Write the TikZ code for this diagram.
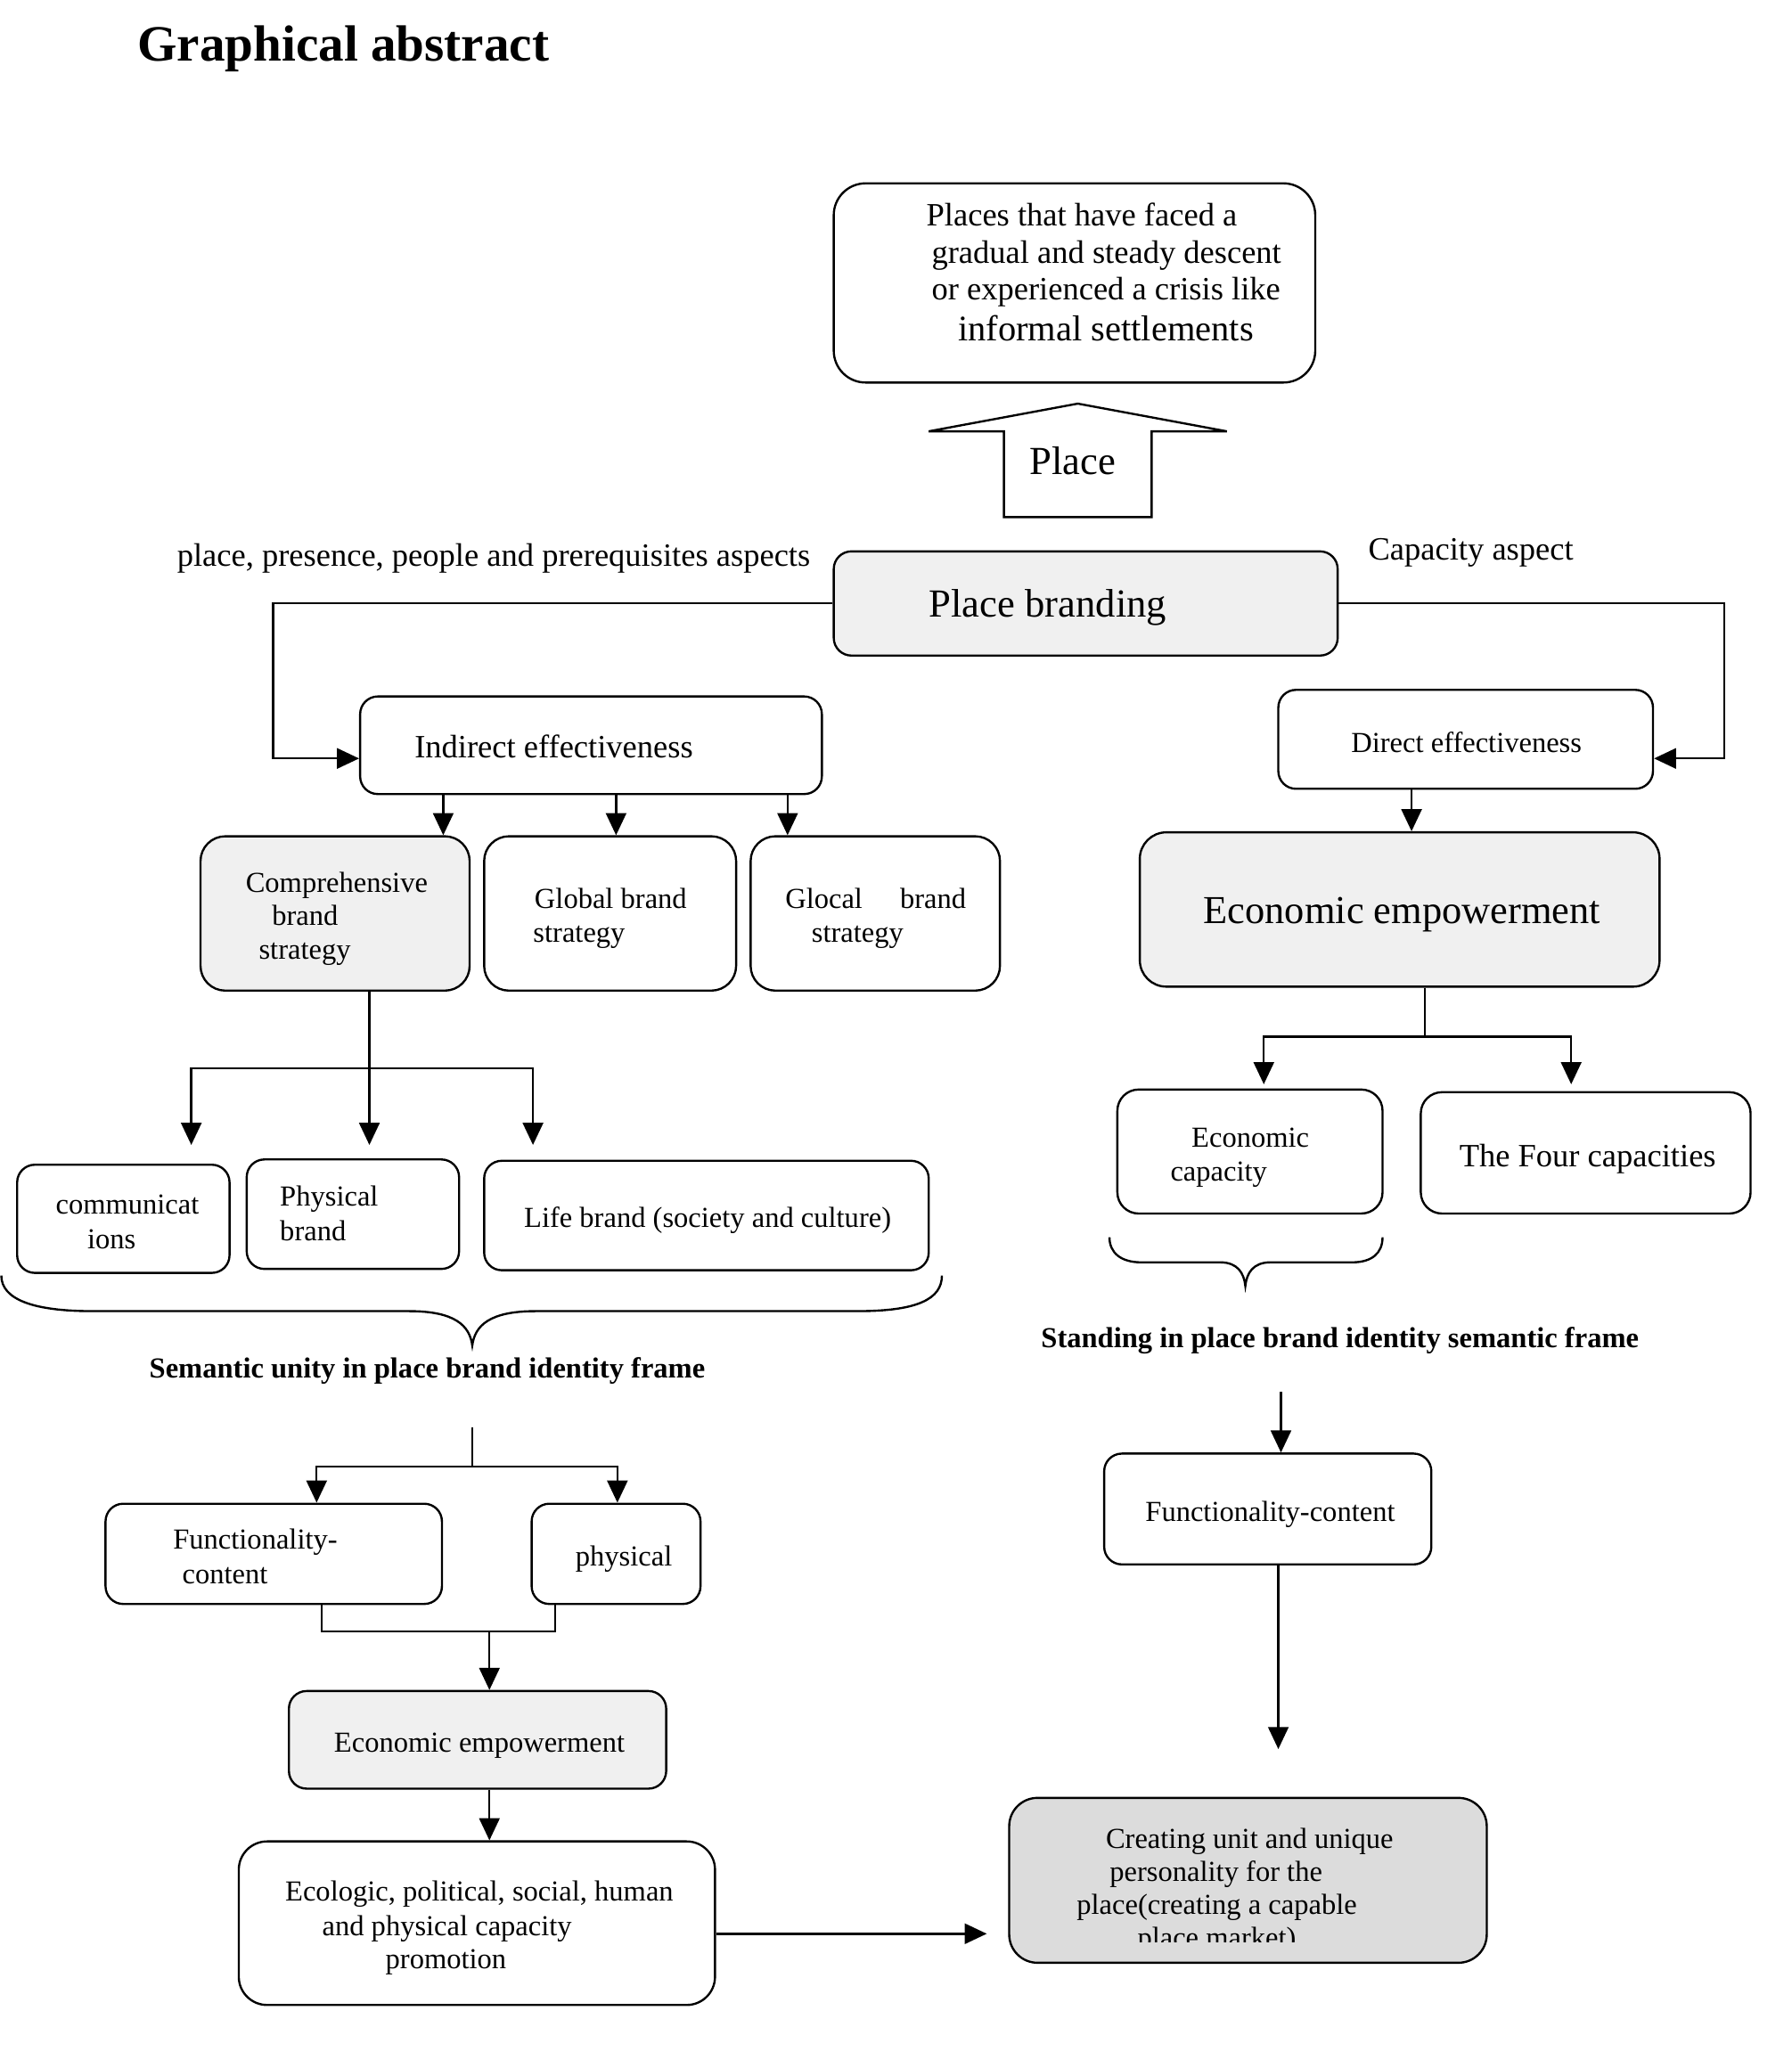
\documentclass[tikz,border=0pt]{standalone}
\usepackage{fontspec}
\setmainfont{Liberation Serif}
\usetikzlibrary{arrows.meta,fit}
\definecolor{lg}{HTML}{F0F0F0}
\definecolor{dg}{HTML}{DCDCDC}
\newcommand\fsS{\fontsize{16.4}{19}\selectfont}
\newcommand\fsM{\fontsize{18.4}{21}\selectfont}
\newcommand\fsL{\fontsize{22.5}{26}\selectfont}
\begin{document}
\begin{tikzpicture}[x=0.74625pt,y=-0.74625pt,
  box/.style={draw, line width=1.2pt, rounded corners=10pt, inner sep=0pt},
  lbl/.style={inner sep=0pt, anchor=mid west, yshift=-4pt, font=\fsS},
  arr/.style={line width=1.2pt, -{Triangle[length=12.5pt,width=11.5pt]}},
  ln/.style={line width=1.2pt}]
\useasboundingbox (0,0) rectangle (1357.8,1567.8);

% title
\node[lbl, yshift=-2pt, font=\fontsize{28.8}{32}\selectfont\bfseries] (title) at (104,35) {Graphical abstract};

% boxes
\node[box, fit={(632,139)(997,290)}, rounded corners=18pt] (top) {};
\node[box, fill=lg, fit={(632,418)(1014,497)}] (pb) {};
\node[box, fit={(273,528)(623,602)}] (ind) {};
\node[box, fit={(969,523)(1253,598)}] (dir) {};
\node[box, fill=lg, fit={(152,634)(356,751)}, rounded corners=14pt] (comp) {};
\node[box, fit={(367,634)(558,751)}, rounded corners=14pt] (glob) {};
\node[box, fit={(569,634)(758,751)}, rounded corners=14pt] (gloc) {};
\node[box, fill=lg, fit={(864,631)(1258,748)}, rounded corners=15pt] (eco) {};
\node[box, fit={(13,883)(174,965)}] (comm) {};
\node[box, fit={(187,879)(348,962)}] (phys) {};
\node[box, fit={(367,880)(704,963)}] (life) {};
\node[box, fit={(847,826)(1048,920)}, rounded corners=12pt] (ecap) {};
\node[box, fit={(1077,828)(1327,920)}, rounded corners=12pt] (four) {};
\node[box, fit={(80,1140)(335,1216)}] (func) {};
\node[box, fit={(403,1140)(531,1216)}] (phys2) {};
\node[box, fill=lg, fit={(219,1282)(505,1356)}] (econ2) {};
\node[box, fit={(181,1396)(542,1520)}, rounded corners=16pt] (ecol) {};
\node[box, fit={(837,1102)(1085,1186)}] (func2) {};
\node[box, fill=dg, fit={(765,1363)(1127,1488)}, rounded corners=16pt] (crea) {};

% block arrow "Place"
\draw[ln, line join=miter] (761,392) -- (761,327) -- (704,327) -- (817,306) -- (930,327) -- (873,327) -- (873,392) -- cycle;
\node[inner sep=0pt, anchor=mid, yshift=-4pt, font=\fsL] (placelbl) at (813,351) {Place};

% texts
\node[lbl, font=\fsM] (top1) at (702,163) {Places that have faced a};
\node[lbl, font=\fsM] (top2) at (706,191) {gradual and steady descent};
\node[lbl, font=\fsM] (top3) at (706,219) {or experienced a crisis like};
\node[lbl, font=\fontsize{20.4}{24}\selectfont] (top4) at (726,250) {informal settlements};
\node[lbl, font=\fsM] (asp1) at (134,421) {place, presence, people and prerequisites aspects};
\node[lbl, font=\fsM] (asp2) at (1037,416) {Capacity aspect};
\node[lbl, font=\fsL] (pbt) at (704,459) {Place branding};
\node[lbl, font=\fsM] (indt) at (314,566) {Indirect effectiveness};
\node[lbl] (dirt) at (1024,562) {Direct effectiveness};
\node[lbl] (comp1) at (186,668) {Comprehensive};
\node[lbl] (comp2) at (206,693) {brand};
\node[lbl] (comp3) at (196,719) {strategy};
\node[lbl] (glob1) at (405,680) {Global brand};
\node[lbl] (glob2) at (404,706) {strategy};
\node[lbl] (gloc1) at (595,680) {Glocal};
\node[lbl] (gloc2) at (682,680) {brand};
\node[lbl] (gloc3) at (615,706) {strategy};
\node[lbl] (comm1) at (42,912) {communicat};
\node[lbl] (comm2) at (66,938) {ions};
\node[lbl] (phys1) at (212,906) {Physical};
\node[lbl] (physb) at (212,932) {brand};
\node[lbl] (lifet) at (397,922) {Life brand (society and culture)};
\node[lbl, font=\fsS\bfseries] (sem) at (113,1036) {Semantic unity in place brand identity frame};
\node[lbl, font=\fontsize{22.4}{26}\selectfont] (ecot) at (912,692) {Economic empowerment};
\node[lbl] (ecap1) at (903,861) {Economic};
\node[lbl] (ecap2) at (887,887) {capacity};
\node[lbl, font=\fsM] (fourt) at (1106,876) {The Four capacities};
\node[lbl, font=\fsS\bfseries] (stand) at (789,1013) {Standing in place brand identity semantic frame};
\node[lbl] (func1) at (131,1166) {Functionality-};
\node[lbl] (funcb) at (138,1192) {content};
\node[lbl] (phys2t) at (436,1179) {physical};
\node[lbl] (econ2t) at (253,1320) {Economic empowerment};
\node[lbl] (ecol1) at (216,1433) {Ecologic, political, social, human};
\node[lbl] (ecol2) at (244,1459) {and physical capacity};
\node[lbl] (ecol3) at (292,1484) {promotion};
\node[lbl] (func2t) at (868,1145) {Functionality-content};
\node[lbl] (crea1) at (838,1393) {Creating unit and unique};
\node[lbl] (crea2) at (841,1418) {personality for the};
\node[lbl] (crea3) at (816,1443) {place(creating a capable};
\begin{scope}
\clip (765,1363) rectangle (1127,1472);
\node[lbl] (crea4) at (862,1468) {place market)};
\end{scope}

% helper coordinates
\coordinate (cL) at (207,575);
\coordinate (cR) at (1307,575);
\coordinate (xa) at (336,0);
\coordinate (xb) at (467,0);
\coordinate (xc) at (597,0);
\coordinate (xd) at (1070,0);
\coordinate (br1) at (280,810);
\coordinate (t1) at (145,868);
\coordinate (t2) at (280,868);
\coordinate (t3) at (404,868);
\coordinate (br2) at (1080,786);
\coordinate (t4) at (958,822);
\coordinate (t5) at (1191,822);
\coordinate (s0) at (358,1082);
\coordinate (br3) at (358,1112);
\coordinate (xe) at (240,0);
\coordinate (xf) at (468,0);
\coordinate (j1) at (244,1237);
\coordinate (j2) at (421,1237);
\coordinate (j3) at (371,1237);
\coordinate (e1) at (748,1466);
\coordinate (s1) at (971,1055);
\coordinate (s2) at (969,1326);

% connectors
\draw[arr] (pb.west) -| (cL) -- (ind.west |- cL);
\draw[arr] (pb.east) -| (cR) -- (dir.east |- cR);
\draw[arr] (ind.south -| xa) -- (comp.north -| xa);
\draw[arr] (ind.south -| xb) -- (glob.north -| xb);
\draw[arr] (ind.south -| xc) -- (gloc.north -| xc);
\draw[arr] (dir.south -| xd) -- (eco.north -| xd);
\draw[arr] (comp.south -| br1) -- (t2);
\draw[arr] (br1) -| (t1);
\draw[arr] (br1) -| (t3);
\draw[ln] (eco.south -| br2) -- (br2);
\draw[arr] (br2) -| (t4);
\draw[arr] (br2) -| (t5);
\draw[ln] (s0) -- (br3);
\draw[arr] (br3) -| (func.north -| xe);
\draw[arr] (br3) -| (phys2.north -| xf);
\draw[ln] (func.south -| j1) -- (j1) -- (j2) -- (phys2.south -| j2);
\draw[arr] (j3) -- (econ2.north -| j3);
\draw[arr] (econ2.south -| j3) -- (ecol.north -| j3);
\draw[arr] (ecol.east |- e1) -- (e1);
\draw[arr] (s1) -- (func2.north -| s1);
\draw[arr] (func2.south -| s2) -- (s2);

% braces
\draw[ln] (1,967) .. controls (1,985) and (25,994) .. (70,994) -- (310,994)
  .. controls (345,994) and (356,1005) .. (358,1020)
  .. controls (360,1005) and (371,994) .. (406,994) -- (650,994)
  .. controls (695,994) and (714,985) .. (714,967);
\draw[ln] (841,938) .. controls (841,950) and (850,957) .. (865,957) -- (925,957)
  .. controls (938,957) and (943,965) .. (944,975)
  .. controls (945,965) and (950,957) .. (963,957) -- (1025,957)
  .. controls (1040,957) and (1048,950) .. (1048,938);
\end{tikzpicture}
\end{document}
